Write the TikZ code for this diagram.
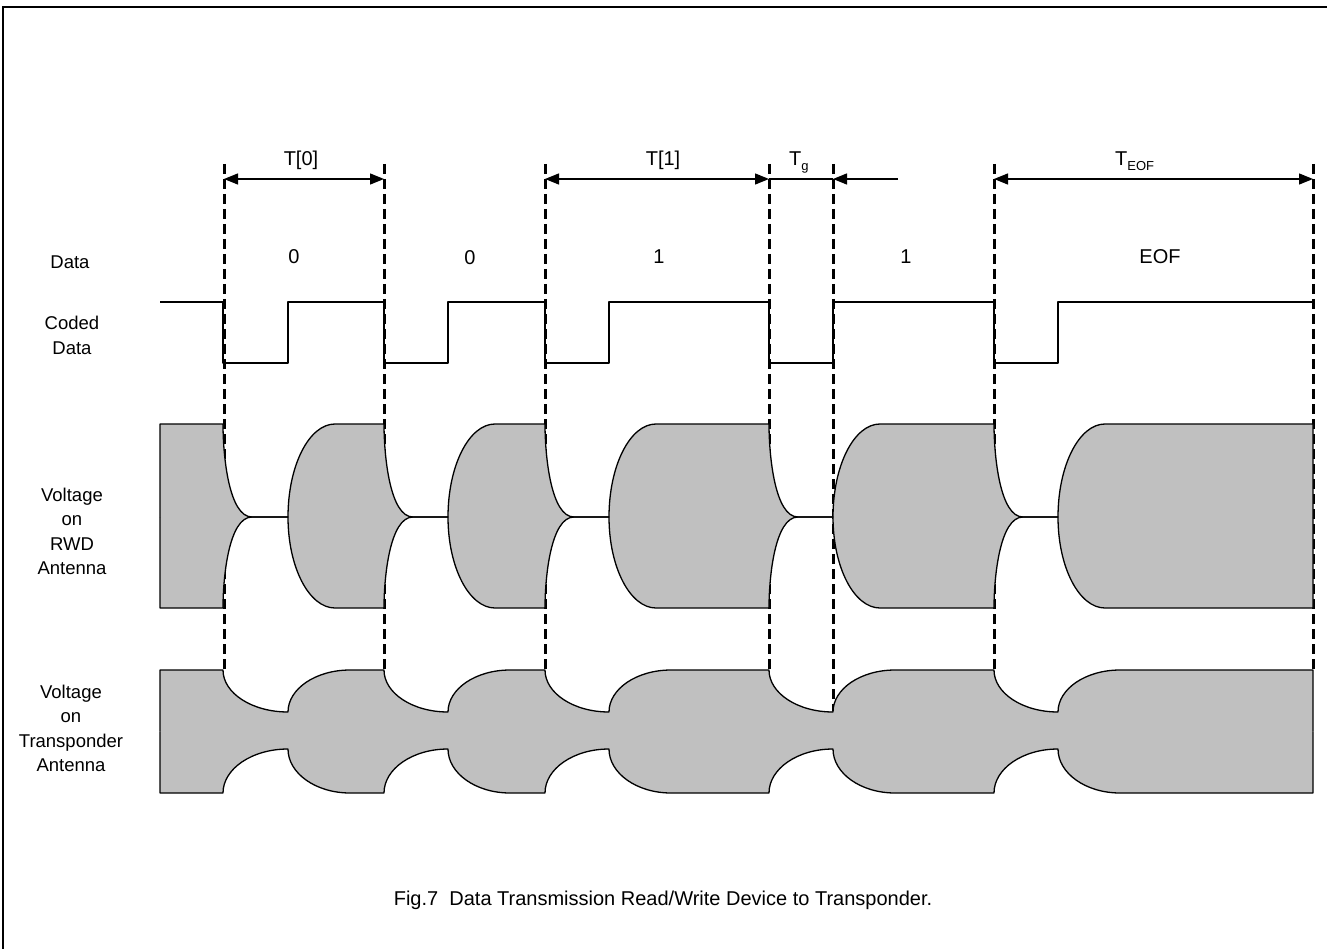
\documentclass[tikz,border=0pt]{standalone}
\usepackage{fontspec}
\setmainfont{Liberation Sans}
\usetikzlibrary{arrows.meta}
\definecolor{wavegray}{RGB}{192,192,192}
\newcommand{\rwdcontour}[2]{(160,#2) -- (160,#1)
 \foreach \f/\r in {223/288,384/448,545/609,769/833,994/1058}{
   -- (\f,#1) .. controls (\f,{#1+0.35*(#2-#1)}) and ({\f+6},#2) .. ({\f+29},#2)
   -- (\r,#2) .. controls (\r,{#2+0.5523*(#1-#2)}) and ({\r+0.4477*47},#1) .. ({\r+47},#1)}
 -- (1313,#1) -- (1313,#2)}
\newcommand{\trpcontour}[3]{(160,#3) -- (160,#1)
 \foreach \f/\r in {223/288,384/448,545/609,769/833,994/1058}{
   -- (\f,#1) .. controls (\f,{#1+0.5523*(#2-#1)}) and ({\f+0.4477*(\r-\f)},#2) .. (\r,#2)
   .. controls (\r,{#2+0.5523*(#1-#2)}) and ({\r+0.4477*62},#1) .. ({\r+62},#1)}
 -- (1313,#1) -- (1313,#3)}
\begin{document}
\begin{tikzpicture}[x=1pt,y=-1pt,
  lab/.style={font=\fontsize{18.5}{24.5}\selectfont, inner sep=0pt, align=center},
  big/.style={lab, font=\fontsize{20}{24}\selectfont},
  guide/.style={line width=3pt, dash pattern=on 10pt off 5pt},
  wave/.style={line width=1.3pt, line join=round},
  dim/.style={line width=1.3pt, {Triangle[length=14pt,width=11pt]}-{Triangle[length=14pt,width=11pt]}},
  dimr/.style={line width=1.3pt, -{Triangle[length=14pt,width=11pt]}},
  plain/.style={line width=1.3pt}]
\useasboundingbox (0,0) rectangle (1327,949);
\draw[line width=2pt] (3,949) -- (3,7) -- (1327,7);
% dashed guides
\foreach \n/\x/\b in {1/224/670,2/384/670,3/545/670,4/769/670,5/833/712,6/994/670,7/1313/670}{
  \coordinate (g\n t) at (\x,164);
  \coordinate (g\n b) at (\x,\b);
  \coordinate (a\n) at (\x,179);
  \draw[guide] (g\n t) -- (g\n b);
}
\coordinate (tgfree) at (898,179);
% dimension arrows
\draw[dim] (a1) -- (a2);
\draw[dim] (a3) -- (a4);
\draw[plain] (a4) -- (a5);
\draw[dimr] (tgfree) -- (a5);
\draw[dim] (a6) -- (a7);
\node[big, anchor=base] (lt0) at (301,166) {T[0]};
\node[big, anchor=base] (lt1) at (663,166) {T[1]};
\node[big, anchor=base west] (ltg) at (789,166) {T\raisebox{-5pt}{\fontsize{13}{15}\selectfont g}};
\node[big, anchor=base west] (lteof) at (1115,166) {T\raisebox{-5pt}{\fontsize{13}{15}\selectfont EOF}};
% data values
\node[big, anchor=base] (d1) at (294,264) {0};
\node[big, anchor=base] (d2) at (470,265) {0};
\node[big, anchor=base] (d3) at (659,264) {1};
\node[big, anchor=base] (d4) at (906,264) {1};
\node[big, anchor=base] (d5) at (1160,264) {EOF};
% row labels
\node[lab] (ldata) at (70,262) {Data};
\node[lab] (lcoded) at (72,335.5) {Coded\\Data};
\node[lab] (lrwd) at (72,531.5) {Voltage\\on\\RWD\\Antenna};
\node[lab] (ltrp) at (71,728.5) {Voltage\\on\\Transponder\\Antenna};
% coded data
\draw[wave] (160,302) -- (223,302) -- (223,363) -- (288,363) -- (288,302) -- (384,302)
  -- (384,363) -- (448,363) -- (448,302) -- (545,302) -- (545,363) -- (609,363)
  -- (609,302) -- (769,302) -- (769,363) -- (833,363) -- (833,302) -- (994,302)
  -- (994,363) -- (1058,363) -- (1058,302) -- (1313,302);
% RWD antenna voltage
\fill[wavegray] \rwdcontour{424}{517} -- (1313,517.6) -- (160,517.6) -- cycle;
\fill[wavegray] \rwdcontour{608}{517} -- (1313,516.4) -- (160,516.4) -- cycle;
\draw[wave] \rwdcontour{424}{517};
\draw[wave] \rwdcontour{608}{517};
% transponder antenna voltage
\fill[wavegray] \trpcontour{670}{712}{731.5} -- cycle;
\fill[wavegray] \trpcontour{793}{749}{731.5} -- cycle;
\fill[wavegray] (160,711) rectangle (1313,750);
\draw[wave] \trpcontour{670}{712}{731.5};
\draw[wave] \trpcontour{793}{749}{731.5};
% caption
\node[big] (cap) at (663,900) {Fig.7\ \ Data Transmission Read/Write Device to Transponder.};
\end{tikzpicture}
\end{document}
